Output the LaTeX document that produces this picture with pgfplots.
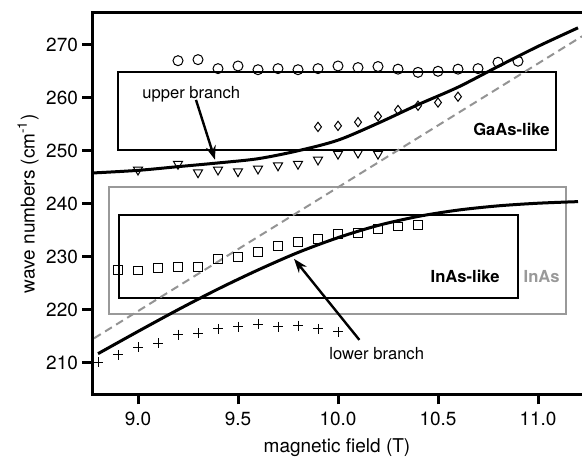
\documentclass[border=0pt]{standalone}
\usepackage{pgfplots}
\pgfplotsset{compat=1.18}
\usepackage{fontspec}
\setmainfont{TeX Gyre Heros}
\usetikzlibrary{arrows.meta}

\definecolor{boxgray}{gray}{0.6}
\definecolor{dashgray}{gray}{0.58}

\begin{document}
\begin{tikzpicture}
\useasboundingbox (0,0) rectangle (291pt,229pt);
\begin{axis}[
	at={(46pt,31.75pt)}, anchor=south west,
	scale only axis,
	width=245pt, height=190.75pt,
	xmin=8.77, xmax=11.22,
	ymin=204, ymax=276,
	xtick={9,9.5,10,10.5,11},
	xticklabels={9.0,9.5,10.0,10.5,11.0},
	ytick={210,220,230,240,250,260,270},
	yticklabels={210,220,230,240,250,260,270},
	axis line style={draw=none},
	tick align=outside,
	xtick pos=bottom, ytick pos=left,
	major tick length=5pt,
	tick style={black, line width=1.5pt},
	ticklabel style={font=\fontsize{9.5}{10}\selectfont},
	yticklabel style={xshift=1.5pt},
	label style={font=\fontsize{9.5}{10}\selectfont},
	xlabel={magnetic field (T)},
	ylabel={wave numbers (cm\textsuperscript{-1})},
	xlabel style={at={(axis description cs:0.5,-0.140)}, anchor=center},
	ylabel style={at={(axis description cs:-0.1306,0.5)}, anchor=center},
	clip=false,
]
% boxes
\draw[line width=1pt] (axis cs:8.9,250.2) rectangle (axis cs:11.09,264.8);
\draw[boxgray, line width=1pt] (axis cs:8.857,219.2) rectangle (axis cs:11.14,243.1);
\draw[line width=1pt] (axis cs:8.907,222.3) rectangle (axis cs:10.90,237.8);

% bare InAs line
\addplot[dashgray, line width=1pt, dash pattern=on 4pt off 2.5pt] coordinates {(8.78,214.6) (11.22,271.6)};

% coupled branches
\addplot[black, line width=1.5pt, smooth] coordinates {
	(8.77,245.8) (9.0,246.3) (9.2,247.0) (9.4,247.7) (9.6,248.5) (9.8,250.0)
	(10.0,252.0) (10.2,255.2) (10.4,258.7) (10.6,262.0) (10.8,265.9)
	(11.0,269.7) (11.2,273.2)};
\addplot[black, line width=1.5pt, smooth] coordinates {
	(8.8,211.7) (9.0,215.9) (9.2,220.0) (9.4,223.9) (9.6,227.5) (9.8,230.8)
	(10.0,233.6) (10.2,235.9) (10.4,237.6) (10.6,238.8) (10.8,239.6)
	(11.0,240.1) (11.2,240.4)};

% measured
\addplot[only marks, mark=o, mark size=2.5pt, mark options={line width=0.5pt}] coordinates {
	(9.2,267.0) (9.3,267.2) (9.4,265.5) (9.5,266.0) (9.6,265.3) (9.7,265.5)
	(9.8,265.3) (9.9,265.5) (10.0,266.0) (10.1,265.7) (10.2,265.9) (10.3,265.4)
	(10.4,264.8) (10.5,265.0) (10.6,265.4) (10.7,265.5) (10.8,266.7) (10.9,266.9)};
\addplot[only marks, mark=diamond, mark size=2.3pt, mark options={line width=0.5pt}] coordinates {
	(9.9,254.5) (10.0,254.7) (10.1,255.4) (10.2,256.5) (10.3,257.7) (10.4,258.5)
	(10.5,259.1) (10.6,260.2)};
\addplot[only marks, mark=triangle, mark size=2.6pt, mark options={rotate=180, line width=0.5pt}] coordinates {
	(9.0,246.4) (9.2,247.5) (9.3,245.9) (9.4,246.4) (9.5,246.1) (9.6,246.6)
	(9.7,247.2) (9.8,247.5) (9.9,248.3) (10.0,249.4) (10.1,249.6) (10.2,249.4)};
\addplot[only marks, mark=square, mark size=2.2pt, mark options={line width=0.5pt}] coordinates {
	(8.9,227.5) (9.0,227.4) (9.1,227.8) (9.2,228.1) (9.3,228.1) (9.4,229.6)
	(9.5,229.9) (9.6,230.9) (9.7,232.1) (9.8,232.8) (9.9,233.4) (10.0,234.3)
	(10.1,234.5) (10.2,235.2) (10.3,235.7) (10.4,236.0)};
\addplot[only marks, mark=+, mark size=2.5pt, mark options={line width=0.5pt}] coordinates {
	(8.8,210.1) (8.9,211.5) (9.0,212.9) (9.1,213.7) (9.2,215.3) (9.3,215.6)
	(9.4,216.4) (9.5,216.8) (9.6,217.3) (9.7,216.8) (9.8,217.0) (9.9,216.4)
	(10.0,215.8)};

% labels
\node[anchor=east, inner sep=0pt, font=\fontsize{8.3}{9}\selectfont\bfseries] at (axis cs:11.06,254) {GaAs-like};
\node[anchor=east, inner sep=0pt, font=\fontsize{8.3}{9}\selectfont\bfseries] at (axis cs:10.81,226.2) {InAs-like};
\node[anchor=east, inner sep=0pt, text=boxgray, font=\fontsize{8.3}{9}\selectfont\bfseries] at (axis cs:11.11,226.2) {InAs};
\node[anchor=west, inner sep=0pt, font=\fontsize{8.3}{9}\selectfont] at (axis cs:9.02,260.7) {upper branch};
\node[anchor=west, inner sep=0pt, font=\fontsize{8.3}{9}\selectfont] at (axis cs:9.955,211.8) {lower branch};
\draw[line width=1.2pt, -{Stealth[length=7pt, width=5pt]}] (axis cs:9.29,259.6) -- (axis cs:9.385,248.3);
\draw[line width=1.2pt, -{Stealth[length=7pt, width=5pt]}] (axis cs:10.107,214.3) -- (axis cs:9.78,229.6);
\end{axis}
\draw[line width=1.5pt, line join=miter] (current axis.south east) -- (current axis.south west) -- (current axis.north west) -- (current axis.north east);
\end{tikzpicture}
\end{document}
